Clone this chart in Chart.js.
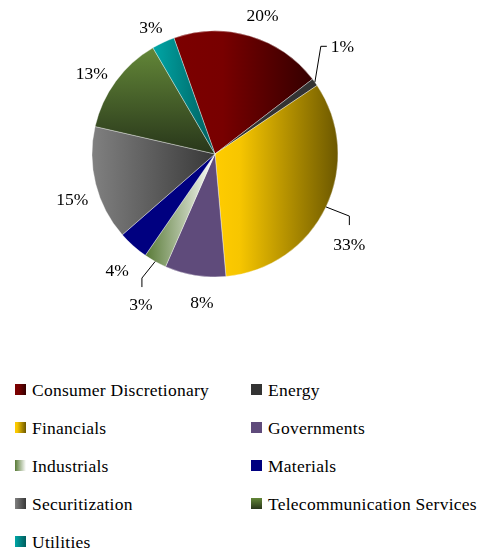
<!DOCTYPE html>
<html>
<head>
<meta charset="utf-8">
<script src="https://cdn.jsdelivr.net/npm/chart.js@4"></script>
<style>
  html, body { margin: 0; padding: 0; background: #fff; }
  #wrap { position: relative; width: 480px; height: 552px; overflow: hidden; }
  #pie { position: absolute; left: 0; top: 0; }
  .item { position: absolute; height: 20px; font-size: 17.5px; letter-spacing: 0.25px; font-family: "Liberation Serif", "Times New Roman", Times, serif; color: #000; white-space: nowrap; line-height: 20px; }
  .sw { position: absolute; left: 0; top: 4px; width: 11px; height: 11px; }
  .tx { position: absolute; left: 17px; top: 0; }
</style>
</head>
<body>
<div id="wrap">
  <canvas id="pie" width="480" height="330"></canvas>
  <div id="legend"></div>
</div>
<script>
// Sector allocation (percent of portfolio)
const categories = [
  'Consumer Discretionary', 'Energy', 'Financials', 'Governments', 'Industrials',
  'Materials', 'Securitization', 'Telecommunication Services', 'Utilities'
];
const weights = [20, 1, 33, 8, 3, 4, 15, 13, 3];

// Fill style for each sector: direction of the shading and its colour stops
const fills = [
  { dir: 'h', stops: [[0, '#7c0000'], [0.35, '#780000'], [1, '#340000']] },
  { dir: 'h', stops: [[0, '#333333'], [1, '#333333']] },
  { dir: 'h', stops: [[0, '#ffcc00'], [0.2, '#f7c600'], [1, '#6c5800']] },
  { dir: 'h', stops: [[0, '#5f4b7b'], [1, '#5f4b7b']] },
  { dir: 'h', stops: [[0, '#587a36'], [1, '#ffffff']] },
  { dir: 'h', stops: [[0, '#000080'], [1, '#000080']] },
  { dir: 'h', stops: [[0, '#808080'], [1, '#383838']] },
  { dir: 'v', stops: [[0, '#638738'], [1, '#28361a']] },
  { dir: 'h', stops: [[0, '#00a6a6'], [1, '#005e5e']] }
];

// Label placement: angle shift from slice middle (deg) and distance from centre,
// or a leader line: elbow (angle, distance), short tail, then text offset
const labelLayout = [
  { shift: 2.5, dist: 146 },
  { leader: { ang: 44.5, dist: 151, tail: [6, 0], text: [4, 1], align: 'left' } },
  { leader: { ang: 114.8, dist: 148, tail: [0, 9], text: [0, 20], align: 'center' } },
  { shift: -4.3, dist: 150 },
  { leader: { ang: 210.5, dist: 144, tail: [0, 9], text: [-1, 18], align: 'center' } },
  { shift: -2, dist: 153 },
  { shift: -3.9, dist: 150 },
  { shift: -3.3, dist: 147 },
  { shift: -2.1, dist: 141 }
];

const LABEL_FONT = '17.5px "Liberation Serif", "Times New Roman", Times, serif';

function makeGradient(ctx, f, box) {
  const g = f.dir === 'v'
    ? ctx.createLinearGradient(0, box.y0, 0, box.y1)
    : ctx.createLinearGradient(box.x0, 0, box.x1, 0);
  f.stops.forEach(s => g.addColorStop(s[0], s[1]));
  return g;
}

// bounding box of a pie sector
function sectorBox(a) {
  const pts = [[a.x, a.y]];
  const add = t => pts.push([a.x + a.outerRadius * Math.cos(t), a.y + a.outerRadius * Math.sin(t)]);
  add(a.startAngle); add(a.endAngle);
  for (let k = -4; k <= 8; k++) {
    const t = k * Math.PI / 2;
    if (t > a.startAngle && t < a.endAngle) add(t);
  }
  const xs = pts.map(p => p[0]), ys = pts.map(p => p[1]);
  return { x0: Math.min(...xs), x1: Math.max(...xs), y0: Math.min(...ys), y1: Math.max(...ys) };
}

const shadePlugin = {
  id: 'shade',
  beforeDatasetsDraw(chart) {
    const ctx = chart.ctx;
    chart.getDatasetMeta(0).data.forEach((arc, i) => {
      const p = arc.getProps(['x', 'y', 'startAngle', 'endAngle', 'outerRadius'], true);
      arc.options.backgroundColor = makeGradient(ctx, fills[i], sectorBox(p));
    });
  }
};

const labelPlugin = {
  id: 'pctLabels',
  afterDatasetsDraw(chart) {
    const ctx = chart.ctx;
    const ds = chart.data.datasets[0];
    ctx.save();
    ctx.font = LABEL_FONT;
    ctx.fillStyle = '#000';
    ctx.strokeStyle = '#000';
    ctx.lineWidth = 1;
    chart.getDatasetMeta(0).data.forEach((arc, i) => {
      const p = arc.getProps(['x', 'y', 'startAngle', 'endAngle', 'outerRadius'], true);
      const mid = (p.startAngle + p.endAngle) / 2;
      const text = Math.round(ds.data[i]) + '%';
      const L = labelLayout[i];
      ctx.textBaseline = 'middle';
      if (L.leader) {
        const lead = L.leader;
        const sx = p.x + p.outerRadius * Math.cos(mid);
        const sy = p.y + p.outerRadius * Math.sin(mid);
        const t = (lead.ang - 90) * Math.PI / 180;
        const ex = p.x + lead.dist * Math.cos(t);
        const ey = p.y + lead.dist * Math.sin(t);
        const tx = ex + lead.tail[0], ty = ey + lead.tail[1];
        ctx.beginPath();
        ctx.moveTo(sx, sy);
        ctx.lineTo(ex, ey);
        ctx.lineTo(tx, ty);
        ctx.stroke();
        ctx.textAlign = lead.align;
        ctx.fillText(text, tx + lead.text[0], ty + lead.text[1]);
      } else {
        const t = mid + L.shift * Math.PI / 180;
        ctx.textAlign = 'center';
        ctx.fillText(text, p.x + L.dist * Math.cos(t), p.y + L.dist * Math.sin(t));
      }
    });
    ctx.restore();
  }
};

new Chart(document.getElementById('pie'), {
  type: 'pie',
  data: {
    labels: categories,
    datasets: [{
      data: weights,
      backgroundColor: fills.map(f => f.stops[0][1]),
      borderColor: 'rgba(255,255,255,0.6)',
      borderWidth: 0.6,
      radius: 123
    }]
  },
  options: {
    responsive: false,
    animation: false,
    rotation: -19.5,
    layout: { padding: { left: 92, right: 142, top: 31, bottom: 53 } },
    plugins: {
      legend: { display: false },
      tooltip: { enabled: false }
    },
    events: []
  },
  plugins: [shadePlugin, labelPlugin]
});

// Two-column legend under the pie
const legend = document.getElementById('legend');
categories.forEach((name, i) => {
  const col = i % 2, row = Math.floor(i / 2);
  const item = document.createElement('div');
  item.className = 'item';
  item.style.left = (col ? 251 : 15) + 'px';
  item.style.top = (380 + row * 38) + 'px';
  const sw = document.createElement('div');
  sw.className = 'sw';
  const f = fills[i];
  const stops = f.stops.map(s => s[1] + ' ' + (s[0] * 100) + '%').join(', ');
  sw.style.background = 'linear-gradient(' + (f.dir === 'v' ? 'to bottom' : 'to right') + ', ' + stops + ')';
  const tx = document.createElement('span');
  tx.className = 'tx';
  tx.textContent = name;
  item.appendChild(sw);
  item.appendChild(tx);
  legend.appendChild(item);
});
</script>
</body>
</html>
